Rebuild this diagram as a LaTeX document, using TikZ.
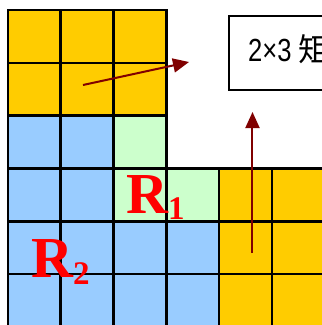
\documentclass[tikz,border=0pt]{standalone}
\usepackage{fontspec}
\setmainfont{Liberation Serif}
\newfontfamily\cjkfont{Noto Sans CJK TC}
\newfontfamily\numfont{Liberation Sans}
\usetikzlibrary{arrows.meta}
\definecolor{cOrange}{HTML}{FFCC00}
\definecolor{cBlue}{HTML}{99CCFF}
\definecolor{cGreen}{HTML}{CCFFCC}
\definecolor{cArrow}{HTML}{800000}
\definecolor{cLabel}{HTML}{FF0000}
\begin{document}
\begin{tikzpicture}[x=1pt,y=-1pt,
  cellline/.style={draw=black,line width=2.6pt},
  arr/.style={draw=cArrow,line width=2pt,-{Triangle[length=16pt,width=14pt]}},
  lbl/.style={text=cLabel,font=\bfseries\fontsize{58}{58}\selectfont,inner sep=0pt,anchor=base west},
  boxstyle/.style={draw=black,line width=1.8pt,inner sep=0pt,anchor=north west,minimum width=130pt,minimum height=74pt}]
\useasboundingbox (0,0) rectangle (322,325);
\clip (0,0) rectangle (322,325);
\fill[white] (0,0) rectangle (322,325);
% cells: column/row/colour
\foreach \c/\r/\col in {0/0/cOrange,1/0/cOrange,2/0/cOrange,
                        0/1/cOrange,1/1/cOrange,2/1/cOrange,
                        0/2/cBlue,1/2/cBlue,2/2/cGreen,
                        0/3/cBlue,1/3/cBlue,2/3/cGreen,3/3/cGreen,4/3/cOrange,5/3/cOrange,
                        0/4/cBlue,1/4/cBlue,2/4/cBlue,3/4/cBlue,4/4/cOrange,5/4/cOrange,
                        0/5/cBlue,1/5/cBlue,2/5/cBlue,3/5/cBlue,4/5/cOrange,5/5/cOrange}{
  \fill[\col] ({8+52.8*\c},{10+52.8*\r}) rectangle ++(52.8,52.8);
}
\foreach \c/\r in {0/0,1/0,2/0,0/1,1/1,2/1,0/2,1/2,2/2,
                   0/3,1/3,2/3,3/3,4/3,5/3,0/4,1/4,2/4,3/4,4/4,5/4,
                   0/5,1/5,2/5,3/5,4/5,5/5}{
  \draw[cellline] ({8+52.8*\c},{10+52.8*\r}) rectangle ++(52.8,52.8);
}
% box with text
\node[boxstyle] (box) at (228,15) {};
\node[inner sep=0pt,anchor=base west,font=\cjkfont\fontsize{32}{32}\selectfont] (boxtext) at (248,61) {\scalebox{0.8}[1]{\numfont 2×3}\hspace{7pt}矩形};
% arrows
\coordinate (a1s) at (83,85);
\coordinate (a1e) at (189,62);
\draw[arr] (a1s) -- (a1e);
\coordinate (a2s) at (252.5,253);
\coordinate (a2e) at (252.5,112);
\draw[arr] (a2s) -- (a2e);
% labels
\node[lbl] (r1) at (126,213) {R\raisebox{-6pt}{\fontsize{33}{33}\selectfont 1}};
\node[lbl] (r2) at (31,277) {R\raisebox{-7pt}{\fontsize{33}{33}\selectfont 2}};
\end{tikzpicture}
\end{document}
